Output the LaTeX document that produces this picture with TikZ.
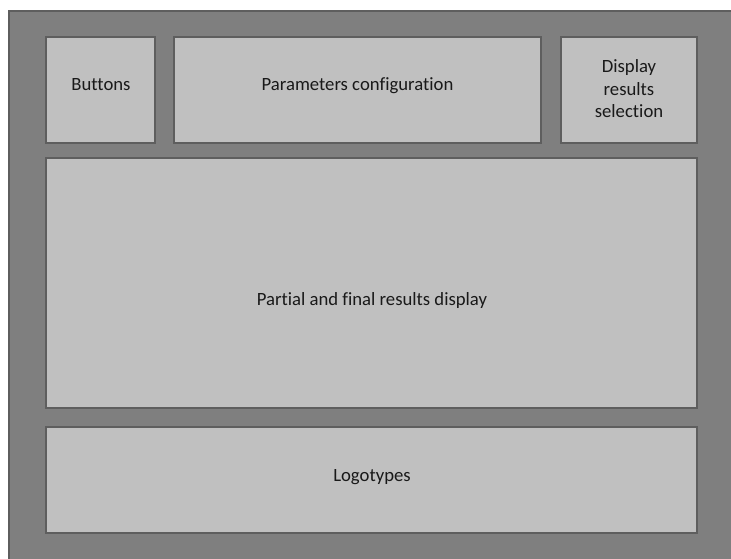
\documentclass[tikz,border=0pt]{standalone}
\usepackage{fontspec}
\setmainfont{Carlito}[Ligatures={NoCommon}]
\definecolor{framegray}{HTML}{7F7F7F}
\definecolor{panelgray}{HTML}{C0C0C0}
\definecolor{edgegray}{HTML}{5E5E5E}

\begin{document}
\begin{tikzpicture}[
  x=1pt,
  y=-1pt,
  backplate/.style={
    draw=edgegray,
    fill=framegray,
    line width=2pt
  },
  panel/.style={
    draw=edgegray,
    fill=panelgray,
    line width=2pt,
    inner sep=0pt
  },
  caption/.style={
    anchor=base,
    inner sep=0pt,
    align=center,
    text=black!90,
    font=\fontsize{18.7}{22.5}\selectfont
  },
]
\clip (0,0) rectangle (731,558);
\fill[white] (0,0) rectangle (731,558);
\draw[backplate] (9,11) rectangle (780,600);

% top row
\node[panel, minimum width=109pt, minimum height=106pt] (buttons) at (100.5,90) {};
\node[panel, minimum width=367pt, minimum height=106pt] (params) at (357.5,90) {};
\node[panel, minimum width=136pt, minimum height=106pt] (select) at (629,90) {};
% results and logos
\node[panel, minimum width=651pt, minimum height=250pt] (results) at (371.5,283) {};
\node[panel, minimum width=651pt, minimum height=106pt] (logos) at (371.5,480) {};

\node[caption] (buttonstext) at (101,90) {Buttons};
\node[caption] (paramstext) at (357.5,90) {Parameters configuration};
\node[caption, anchor=center] (selecttext) at (629,89) {Display\\results\\selection};
\node[caption] (resultstext) at (372,305) {Partial and final results display};
\node[caption] (logostext) at (372,481) {Logotypes};
\end{tikzpicture}
\end{document}
